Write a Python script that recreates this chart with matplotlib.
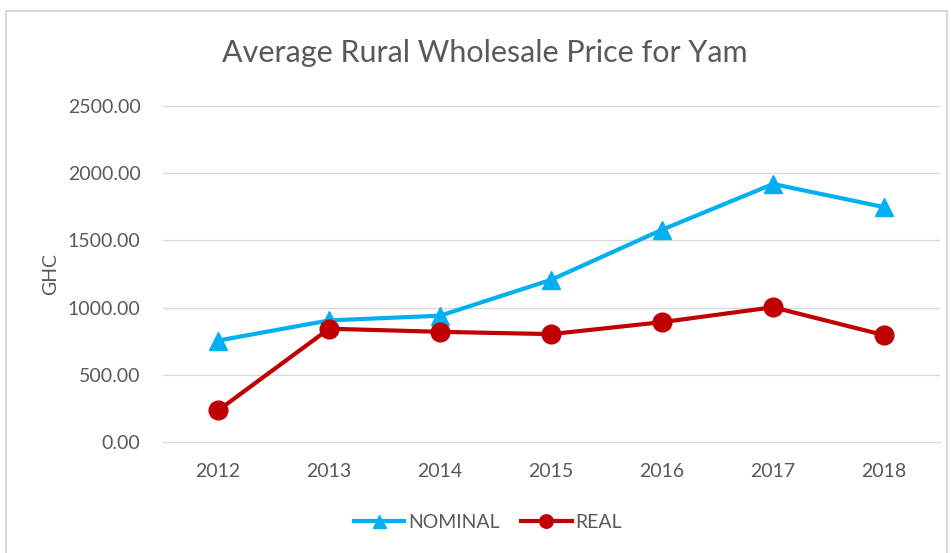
import numpy as np
import matplotlib
matplotlib.use("Agg")
import matplotlib.pyplot as plt  # noqa: E402
from matplotlib.patches import Rectangle  # noqa: E402

years = ["2012", "2013", "2014", "2015", "2016", "2017", "2018"]
nominal = [755, 905, 940, 1207, 1580, 1920, 1748]
real = [235, 843, 820, 803, 892, 1003, 795]

plt.rcParams["font.family"] = ["Lato", "DejaVu Sans"]
GREY = "#595959"


def main():
    fig = plt.figure(figsize=(9.51, 5.53), dpi=100)
    ax = fig.add_axes([0.171, 0.2007, 0.817, 0.6075])
    x = np.arange(len(years))

    ax.plot(x, nominal, color="#00B0F0", lw=3, marker="^", ms=13,
            label="NOMINAL", zorder=3)
    ax.plot(x, real, color="#C00000", lw=3, marker="o", ms=13.5,
            label="REAL", zorder=3)

    ax.set_xlim(-0.5, 6.5)
    ax.set_ylim(0, 2500)
    ax.set_yticks(np.arange(0, 2501, 500))
    ax.set_yticklabels([f"{v:.2f}" for v in np.arange(0, 2501, 500)])
    ax.set_xticks(x)
    ax.set_xticklabels(years)
    ax.tick_params(axis="both", length=0, colors=GREY, labelsize=14)
    ax.tick_params(axis="x", pad=15)
    ax.tick_params(axis="y", pad=16)
    ax.grid(True, axis="y", color="#d9d9d9", lw=1)
    ax.set_axisbelow(True)
    for s in ["top", "right", "left"]:
        ax.spines[s].set_visible(False)
    ax.spines["bottom"].set_color("#d9d9d9")

    ax.set_ylabel("GHC", color=GREY, fontsize=14, labelpad=6)
    fig.text(0.51, 0.904, "Average Rural Wholesale Price for Yam",
             ha="center", va="center", fontsize=22, color=GREY)

    fig.legend(loc="center", bbox_to_anchor=(0.513, 0.056), ncol=2, frameon=False,
               fontsize=14, labelcolor=GREY, handlelength=2.6,
               columnspacing=1.1, handletextpad=0.2, markerscale=0.72)

    fig.patches.append(Rectangle((0.006, -0.02), 0.99, 1.0, transform=fig.transFigure,
                                 fill=False, ec="#d9d9d9", lw=1.5))
    fig.savefig("out.png", dpi=100)


if __name__ == "__main__":
    main()
